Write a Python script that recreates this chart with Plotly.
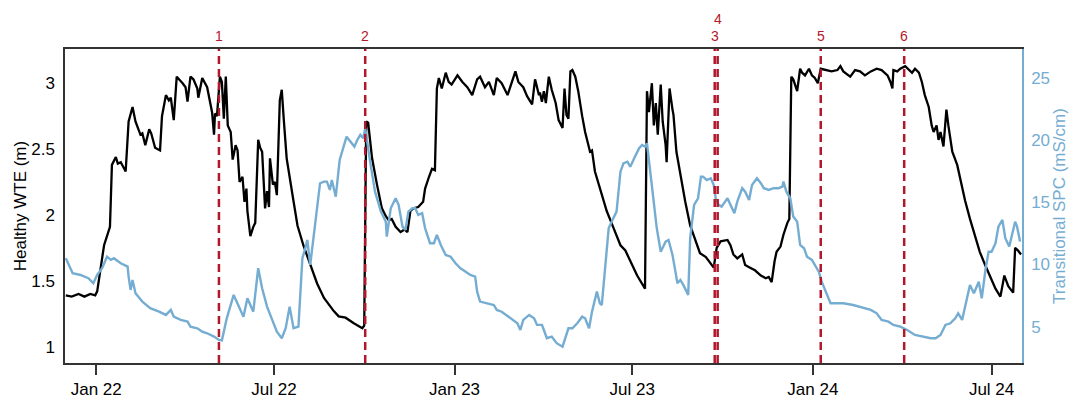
import pandas as pd
import plotly.graph_objects as go

BASE = pd.Timestamp("2022-01-01")

# Healthy WTE (m): days since 2022-01-01, value
wte_days = [-31, -25, -18, -12, -6, -1, 1, 8, 14, 16, 20, 22, 25, 30, 33, 37, 40, 45, 47, 50, 54, 56, 60, 65, 67,
            71, 74, 76, 79, 82, 88, 91, 93, 96, 99, 103, 104, 108, 113, 116, 118, 120, 121, 123, 126, 128, 130,
            132, 134, 137, 139, 142, 144, 146, 149, 151, 153, 154, 157, 160, 162, 165, 167, 169, 172, 174, 176,
            177, 180, 182, 184, 187, 189, 191, 194, 200, 205, 211, 218, 225, 232, 242, 247, 254, 262, 271, 273,
            275, 277, 281, 286, 291, 295, 298, 301, 305, 310, 314, 317, 320, 323, 328, 333, 335, 339, 342, 345,
            347, 349, 352, 356, 359, 362, 368, 373, 378, 383, 388, 391, 396, 400, 405, 408, 413, 419, 424, 427,
            430, 435, 439, 444, 447, 451, 452, 454, 456, 458, 461, 464, 468, 471, 475, 477, 479, 481, 483, 485,
            488, 491, 495, 498, 503, 505, 508, 514, 520, 527, 534, 539, 544, 551, 559, 561, 563, 566, 568, 570,
            572, 575, 577, 580, 581, 584, 587, 588, 591, 595, 600, 605, 610, 615, 621, 626, 629, 632, 636, 643,
            646, 649, 653, 658, 661, 666, 671, 677, 682, 685, 688, 691, 693, 697, 700, 704, 706, 708, 710, 714,
            717, 719, 722, 726, 729, 732, 735, 738, 743, 749, 755, 758, 761, 768, 773, 778, 783, 789, 795, 800,
            806, 809, 811, 812, 816, 819, 824, 828, 831, 834, 838, 841, 844, 848, 851, 853, 856, 858, 860, 863,
            866, 868, 872, 877, 880, 885, 890, 895, 900, 906, 911, 916, 921, 925, 929, 934, 936, 939, 942]
wte_vals = [1.39, 1.38, 1.40, 1.38, 1.40, 1.39, 1.42, 1.77, 1.91, 2.38, 2.44, 2.39, 2.40, 2.33, 2.71, 2.82, 2.71,
            2.61, 2.62, 2.53, 2.65, 2.62, 2.51, 2.49, 2.75, 2.91, 2.87, 2.89, 2.72, 3.05, 3.00, 2.97, 2.86, 3.05,
            3.03, 2.96, 2.89, 3.04, 2.97, 2.85, 2.78, 2.61, 2.77, 2.75, 3.05, 3.01, 2.73, 3.05, 2.68, 2.63, 2.42,
            2.53, 2.49, 2.25, 2.29, 2.10, 2.20, 2.03, 1.84, 1.91, 1.94, 2.57, 2.51, 2.48, 2.05, 2.18, 2.06, 2.43,
            2.23, 2.25, 2.15, 2.87, 2.95, 2.73, 2.43, 2.15, 1.92, 1.77, 1.62, 1.48, 1.37, 1.27, 1.23, 1.22, 1.18,
            1.14, 1.16, 2.71, 2.70, 2.43, 2.23, 2.05, 1.99, 1.96, 1.97, 1.91, 1.87, 1.89, 1.87, 2.03, 2.05, 2.06,
            2.10, 2.20, 2.29, 2.35, 2.34, 2.96, 3.04, 2.96, 3.08, 3.01, 2.99, 3.06, 3.01, 2.97, 2.91, 3.03, 3.05,
            2.97, 3.01, 2.91, 3.04, 3.00, 2.91, 3.03, 3.09, 3.01, 2.97, 2.90, 2.84, 3.03, 2.91, 2.93, 2.86, 2.94,
            2.85, 3.05, 2.95, 2.85, 2.72, 2.66, 2.96, 2.76, 2.73, 3.09, 3.10, 3.05, 2.94, 2.75, 2.63, 2.48, 2.49,
            2.33, 2.18, 2.03, 1.90, 1.77, 1.73, 1.65, 1.54, 1.44, 2.94, 2.78, 3.00, 2.68, 2.85, 2.61, 2.99, 2.71,
            2.53, 2.40, 2.96, 2.80, 2.76, 2.48, 2.30, 2.10, 1.92, 1.81, 1.71, 1.68, 1.63, 1.60, 1.75, 1.80, 1.81,
            1.77, 1.70, 1.67, 1.70, 1.62, 1.60, 1.58, 1.54, 1.52, 1.53, 1.49, 1.65, 1.72, 1.76, 1.85, 1.94, 1.97,
            3.05, 3.03, 2.94, 3.11, 3.08, 3.06, 3.11, 3.06, 3.04, 3.00, 3.11, 3.10, 3.09, 3.10, 3.13, 3.09, 3.05,
            3.10, 3.09, 3.06, 3.09, 3.11, 3.10, 3.06, 3.01, 2.96, 3.10, 3.09, 3.11, 3.13, 3.10, 3.08, 3.11, 3.08,
            3.01, 2.91, 2.82, 2.68, 2.63, 2.68, 2.57, 2.63, 2.52, 2.80, 2.68, 2.48, 2.38, 2.28, 2.11, 1.97, 1.85,
            1.72, 1.61, 1.52, 1.44, 1.38, 1.54, 1.46, 1.41, 1.75, 1.73, 1.70]

# Transitional SPC (mS/cm): days since 2022-01-01, value
spc_days = [-31, -24, -16, -8, -3, 1, 6, 11, 15, 18, 25, 32, 33, 35, 37, 40, 47, 55, 64, 71, 76, 79, 86, 93, 96,
            103, 108, 113, 120, 125, 128, 133, 140, 145, 150, 154, 157, 160, 165, 169, 174, 179, 184, 189, 193,
            197, 201, 206, 210, 213, 215, 218, 222, 228, 232, 235, 238, 240, 244, 248, 255, 259, 263, 266, 269,
            272, 274, 279, 284, 290, 295, 296, 300, 305, 308, 312, 315, 318, 322, 325, 328, 332, 335, 340, 344,
            347, 351, 356, 361, 366, 371, 376, 381, 386, 388, 391, 398, 405, 408, 413, 420, 425, 429, 432, 435,
            441, 446, 449, 454, 456, 459, 464, 469, 475, 478, 481, 485, 490, 495, 498, 502, 505, 510, 513, 515,
            519, 522, 525, 530, 534, 537, 541, 544, 548, 553, 556, 559, 561, 565, 568, 571, 575, 580, 583, 587,
            590, 592, 595, 598, 603, 605, 609, 613, 616, 618, 622, 626, 629, 631, 634, 637, 643, 647, 650, 653,
            658, 661, 665, 668, 673, 677, 680, 685, 690, 695, 699, 700, 703, 707, 710, 714, 717, 721, 724, 729,
            732, 736, 739, 744, 748, 755, 761, 771, 782, 789, 795, 800, 807, 812, 819, 826, 834, 843, 850, 855,
            860, 865, 870, 875, 878, 882, 886, 890, 894, 899, 902, 906, 909, 912, 916, 919, 923, 926, 930, 936,
            938, 941]
spc_vals = [10.50, 9.29, 9.15, 8.89, 8.49, 9.15, 9.69, 10.62, 10.36, 10.49, 10.09, 9.82, 9.02, 7.95, 8.75, 7.68,
            7.01, 6.48, 6.20, 5.94, 6.34, 5.80, 5.54, 5.40, 5.00, 4.87, 4.60, 4.47, 4.20, 3.93, 3.90, 5.67, 7.55,
            6.74, 5.80, 7.28, 6.74, 6.20, 9.69, 8.08, 6.61, 5.67, 4.60, 4.07, 4.87, 6.61, 4.87, 5.00, 10.49,
            11.30, 11.96, 9.96, 12.63, 16.52, 16.65, 16.65, 15.98, 16.78, 15.44, 18.39, 20.26, 19.86, 19.46,
            20.00, 20.40, 20.13, 20.94, 18.25, 15.84, 14.24, 13.43, 12.23, 14.51, 15.31, 14.78, 13.03, 12.77,
            14.24, 14.51, 14.51, 13.97, 14.11, 12.90, 11.70, 11.70, 12.37, 11.56, 10.76, 10.62, 10.09, 9.69,
            9.42, 9.15, 9.02, 7.81, 7.01, 6.88, 6.74, 6.34, 6.20, 5.80, 5.54, 5.27, 4.73, 5.54, 5.94, 5.67, 5.14,
            5.14, 4.73, 4.07, 4.20, 3.67, 3.39, 4.07, 4.87, 4.87, 5.27, 5.80, 5.67, 4.87, 6.20, 7.81, 6.88, 6.74,
            10.22, 12.90, 13.43, 14.24, 17.45, 18.12, 18.25, 17.85, 18.53, 19.33, 19.59, 19.46, 19.73, 17.18,
            15.04, 12.90, 11.02, 11.83, 11.96, 10.76, 9.42, 8.49, 8.75, 8.35, 7.55, 12.10, 14.78, 15.31, 17.05,
            17.05, 16.78, 16.92, 16.38, 15.31, 14.78, 14.64, 15.31, 14.64, 14.11, 15.04, 16.12, 15.84, 15.18,
            16.38, 16.92, 16.52, 16.12, 15.98, 16.12, 16.12, 16.25, 16.65, 15.84, 15.31, 13.84, 13.43, 11.56,
            11.30, 10.62, 10.36, 9.96, 9.42, 8.61, 7.68, 6.88, 6.88, 6.88, 6.74, 6.48, 6.34, 6.07, 5.54, 5.40,
            5.14, 5.00, 4.73, 4.33, 4.20, 4.07, 4.07, 4.33, 5.14, 5.27, 5.67, 6.07, 5.54, 7.01, 8.35, 7.68, 8.61,
            7.28, 9.69, 11.02, 11.02, 11.70, 13.03, 13.57, 12.10, 11.43, 13.43, 13.03, 11.83]

event_labels = ["1", "2", "3", "4", "5", "6"]
event_dates = ["2022-05-06", "2022-10-02", "2023-09-23", "2023-09-26", "2024-01-09", "2024-04-03"]
event_label_level = [0, 0, 0, 1, 0, 0]

x_tick_vals = ["2022-01-01", "2022-07-01", "2023-01-01", "2023-07-01", "2024-01-01", "2024-07-01"]
x_tick_text = ["Jan 22", "Jul 22", "Jan 23", "Jul 23", "Jan 24", "Jul 24"]
wte_ticks = [1, 1.5, 2, 2.5, 3]
wte_tick_text = ["1", "1.5", "2", "2.5", "3"]
spc_ticks = [5, 10, 15, 20, 25]

BLUE = "#75add2"
RED = "#b2182b"
AXC = "#333333"
FONT = "Liberation Sans, Arial, sans-serif"

wte_dates = BASE + pd.to_timedelta(wte_days, unit="D")
spc_dates = BASE + pd.to_timedelta(spc_days, unit="D")

fig = go.Figure()
fig.add_trace(go.Scatter(x=wte_dates, y=wte_vals, mode="lines", yaxis="y",
                         line=dict(color="black", width=2.3), showlegend=False))
fig.add_trace(go.Scatter(x=spc_dates, y=spc_vals, mode="lines", yaxis="y2",
                         line=dict(color=BLUE, width=2.4), showlegend=False))

shapes = []
annotations = []
for lab, d, lvl in zip(event_labels, event_dates, event_label_level):
    shapes.append(dict(type="line", xref="x", yref="paper", x0=d, x1=d, y0=0, y1=1,
                       line=dict(color=RED, width=2.5, dash="8px,5px"), layer="above"))
    annotations.append(dict(x=d, y=1.041 + 0.054 * lvl, xref="x", yref="paper", text=lab,
                            showarrow=False, xanchor="center", yanchor="middle",
                            font=dict(color=RED, size=14, family=FONT)))

fig.update_layout(
    width=1073, height=400,
    margin=dict(l=65, r=51, t=49, b=37, autoexpand=False),
    paper_bgcolor="white", plot_bgcolor="white",
    font=dict(family=FONT, size=17, color="black"),
    shapes=shapes, annotations=annotations,
    xaxis=dict(type="date", range=["2021-11-30 05:00", "2024-08-01"], automargin=False,
               tickvals=x_tick_vals, ticktext=x_tick_text,
               ticks="outside", ticklen=10, tickwidth=1.5, tickcolor=AXC,
               showline=True, linecolor=AXC, linewidth=1.5, mirror=True,
               showgrid=False, zeroline=False, tickfont=dict(size=17, color="black")),
    yaxis=dict(range=[0.876, 3.26], tickvals=wte_ticks, ticktext=wte_tick_text, automargin=False,
               ticks="outside", ticklen=5, tickcolor="rgba(0,0,0,0)",
               showline=True, linecolor=AXC, linewidth=1.5,
               showgrid=False, zeroline=False, tickfont=dict(size=17, color="black"),
               title=dict(text="Healthy WTE (m)", font=dict(size=17, color="black"), standoff=0)),
    yaxis2=dict(range=[2.08, 27.3], overlaying="y", side="right", tickvals=spc_ticks, automargin=False,
                ticks="outside", ticklen=4, tickcolor="rgba(0,0,0,0)",
                showline=True, linecolor=BLUE, linewidth=1.5,
                showgrid=False, zeroline=False, tickfont=dict(size=17, color=BLUE),
                title=dict(text="Transitional SPC (mS/cm)", font=dict(size=17, color=BLUE), standoff=4)),
)

fig.write_html("out.html", config={"displayModeBar": False},
               post_script="document.body.style.margin='0px';document.body.style.overflow='hidden';")
